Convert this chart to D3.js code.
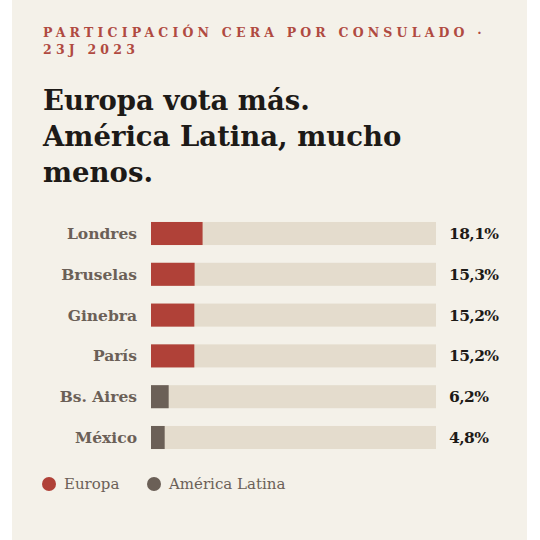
<!DOCTYPE html>
<html><head><meta charset="utf-8">
<script src="https://cdn.jsdelivr.net/npm/d3@7"></script>
<style>
html,body{margin:0;padding:0;background:#ffffff;}
svg{display:block;}
</style></head>
<body>
<script>
const categories = ["Londres","Bruselas","Ginebra","París","Bs. Aires","México"];
const values = [18.1,15.3,15.2,15.2,6.2,4.8];
const regions = ["Europa","Europa","Europa","Europa","América Latina","América Latina"];
const valueLabels = ["18,1%","15,3%","15,2%","15,2%","6,2%","4,8%"];
const legendItems = ["Europa","América Latina"];
const subtitleLines = ["PARTICIPACIÓN CERA POR CONSULADO ·","23J 2023"];
const titleLines = ["Europa vota más.","América Latina, mucho","menos."];

const W=540,H=540;
const serif = "'DejaVu Serif', 'Liberation Serif', serif";
const svg = d3.select("body").append("svg").attr("width",W).attr("height",H);
svg.append("rect").attr("x",12).attr("y",0).attr("width",515).attr("height",H).attr("fill","#f4f1e9");

const color = d3.scaleOrdinal().domain(legendItems).range(["#b04138","#6b6057"]);

svg.append("text").attr("x",43).attr("y",37)
  .attr("font-family",serif).attr("font-weight","bold").attr("font-size",12.5)
  .attr("letter-spacing",4.2).attr("fill","#b04a41")
  .selectAll("tspan").data(subtitleLines).join("tspan")
  .attr("x",43).attr("dy",(d,i)=>i?16.5:0).text(d=>d);

svg.append("text").attr("x",43).attr("y",110)
  .attr("font-family",serif).attr("font-weight","bold").attr("font-size",27.5)
  .attr("fill","#1d1a17")
  .selectAll("tspan").data(titleLines).join("tspan")
  .attr("x",43).attr("dy",(d,i)=>i?36:0).text(d=>d);

const x = d3.scaleLinear().domain([0,100]).range([151,436]);
const y = d3.scaleBand().domain(categories).range([213,458]).paddingInner(0.435).paddingOuter(0.22);

const rows = svg.append("g").selectAll("g").data(categories).join("g");
rows.append("rect").attr("x",x(0)).attr("y",d=>y(d)).attr("width",x(100)-x(0)).attr("height",y.bandwidth()).attr("fill","#e4dccd");
rows.append("rect").attr("x",x(0)).attr("y",d=>y(d)).attr("width",(d,i)=>x(values[i])-x(0)).attr("height",y.bandwidth()).attr("fill",(d,i)=>color(regions[i]));
rows.append("text").attr("x",137).attr("y",d=>y(d)+y.bandwidth()/2).attr("dy","0.35em")
  .attr("text-anchor","end").attr("font-family",serif).attr("font-weight","bold").attr("font-size",15.5)
  .attr("fill","#6b6057").text(d=>d);
rows.append("text").attr("x",449).attr("y",d=>y(d)+y.bandwidth()/2).attr("dy","0.35em")
  .attr("font-family",serif).attr("font-weight","bold").attr("font-size",15.5).attr("letter-spacing",-0.6)
  .attr("fill","#1d1a17").text((d,i)=>valueLabels[i]);

const legX = [49,154];
const leg = svg.append("g").selectAll("g").data(legendItems).join("g")
  .attr("transform",(d,i)=>`translate(${legX[i]},484)`);
leg.append("circle").attr("r",7).attr("fill",d=>color(d));
leg.append("text").attr("x",15).attr("dy","0.35em").attr("font-family",serif).attr("font-size",15)
  .attr("fill","#6b6057").text(d=>d);
</script>
</body></html>
